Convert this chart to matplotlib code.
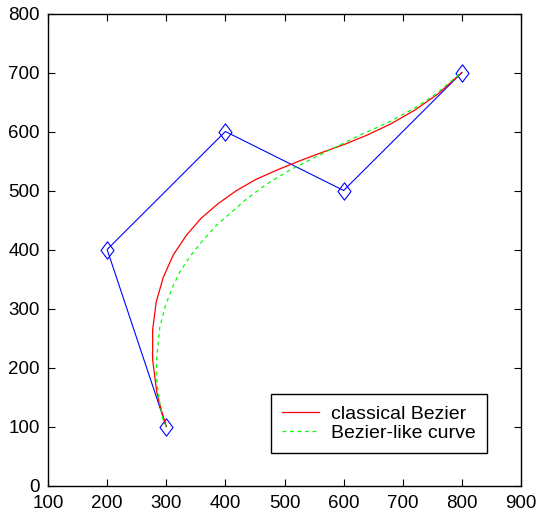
import matplotlib
matplotlib.use("Agg")
import matplotlib.pyplot as plt
from matplotlib.path import Path

# Control polygon
ctrl_x = [300, 200, 400, 600, 800]
ctrl_y = [100, 400, 600, 500, 700]

# Classical Bezier
red_x = [300, 291, 284, 277, 277, 283, 295, 312, 334, 359, 388, 419, 452, 488,
         525, 562, 601, 640, 680, 720, 760, 800]
red_y = [100, 130, 158, 213, 264, 311, 353, 391, 424, 453, 478, 500, 519, 535,
         550, 564, 578, 594, 613, 636, 664, 700]

# Bezier-like curve
green_x = [300, 295, 290, 286, 283, 284, 289, 298, 310, 323, 340, 360, 385, 410,
           435, 470, 510, 545, 577, 628, 679, 724, 758, 785, 800]
green_y = [100, 110, 133, 160, 190, 218, 268, 303, 335, 362, 388, 413, 441, 463,
           485, 511, 535, 553, 569, 594, 617, 642, 665, 688, 700]

labels = ["classical Bezier", "Bezier-like curve"]
xticks = [100, 200, 300, 400, 500, 600, 700, 800, 900]
yticks = [0, 100, 200, 300, 400, 500, 600, 700, 800]

plt.rcParams['font.family'] = ['Liberation Sans', 'DejaVu Sans']

fig = plt.figure(figsize=(5.38, 5.2), dpi=100)
ax = fig.add_axes([48 / 538, 34.5 / 520, 473 / 538, 472 / 520])

diamond = Path([(0, 1), (0.75, 0), (0, -1), (-0.75, 0), (0, 1)],
               [Path.MOVETO, Path.LINETO, Path.LINETO, Path.LINETO, Path.CLOSEPOLY])

ax.plot(ctrl_x, ctrl_y, color=(0, 0, 1), lw=0.8, marker=diamond, markersize=12.5,
        markerfacecolor='none', markeredgecolor=(0, 0, 1), markeredgewidth=0.8)
l1, = ax.plot(red_x, red_y, color=(1, 0, 0), lw=0.9, label=labels[0])
l2, = ax.plot(green_x, green_y, color=(0, 1, 0), lw=0.9, ls=(0, (3, 3)), label=labels[1])

ax.set_xlim(100, 900)
ax.set_ylim(0, 800)
ax.set_xticks(xticks)
ax.set_yticks(yticks)
ax.tick_params(direction='in', top=True, right=True, length=5, width=0.8,
               labelsize=13.5)
ax.tick_params(axis='x', pad=6.5)
ax.tick_params(axis='y', pad=6)
for s in ax.spines.values():
    s.set_linewidth(1.0)
    s.set_color('black')

leg = ax.legend(handles=[l1, l2], loc='lower right', bbox_to_anchor=(0.928, 0.069),
                fontsize=14, frameon=True, fancybox=False, framealpha=1,
                edgecolor='black', handlelength=1.9, borderpad=0.55,
                labelspacing=0.1, handletextpad=0.65, borderaxespad=0)
leg.get_frame().set_linewidth(1.0)

fig.savefig("out.png", dpi=100)
